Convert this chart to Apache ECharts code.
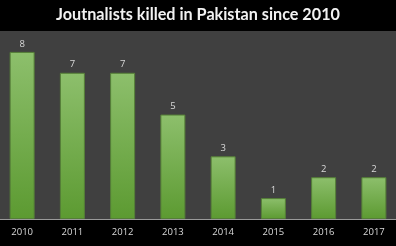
<!DOCTYPE html>
<html>
<head>
<meta charset="utf-8">
<script src="https://cdn.jsdelivr.net/npm/echarts@6/dist/echarts.min.js"></script>
<style>
  html, body { margin: 0; padding: 0; background: #000; }
  #chart { width: 396px; height: 246px; }
</style>
</head>
<body>
<div id="chart"></div>
<script>
  // data
  var years = ['2010', '2011', '2012', '2013', '2014', '2015', '2016', '2017'];
  var killed = [8, 7, 7, 5, 3, 1, 2, 2];
  var chartTitle = 'Joutnalists killed in Pakistan since 2010';

  var chart = echarts.init(document.getElementById('chart'));

  var option = {
    backgroundColor: '#000',
    animation: false,
    title: {
      text: chartTitle,
      left: 'center',
      top: 2,
      textStyle: {
        color: '#f2f2f2',
        fontFamily: 'Lato',
        fontWeight: 'bold',
        fontSize: 16.2
      }
    },
    grid: {
      top: 31,
      bottom: 27,
      left: -3,
      right: -3,
      outerBoundsMode: 'none',
      show: true,
      backgroundColor: '#404040',
      borderWidth: 0
    },
    xAxis: {
      type: 'category',
      data: years,
      axisTick: { show: false },
      axisLine: {
        lineStyle: { color: '#9a9a9a', width: 1 }
      },
      axisLabel: {
        color: '#d9d9d9',
        fontSize: 9.5,
        fontFamily: 'Open Sans',
        margin: 8
      }
    },
    yAxis: {
      type: 'value',
      min: 0,
      max: 9,
      show: false,
      splitLine: { show: false }
    },
    series: [{
      type: 'bar',
      data: killed,
      barWidth: 25,
      itemStyle: {
        color: new echarts.graphic.LinearGradient(0, 0, 0, 1, [
          { offset: 0, color: '#8dbf6c' },
          { offset: 1, color: '#5c9a31' }
        ]),
        borderColor: '#557f37',
        borderWidth: 1
      },
      label: {
        show: true,
        position: 'top',
        distance: 3,
        color: '#d9d9d9',
        fontSize: 9.5,
        fontFamily: 'Open Sans'
      }
    }]
  };

  chart.setOption(option);
</script>
</body>
</html>
